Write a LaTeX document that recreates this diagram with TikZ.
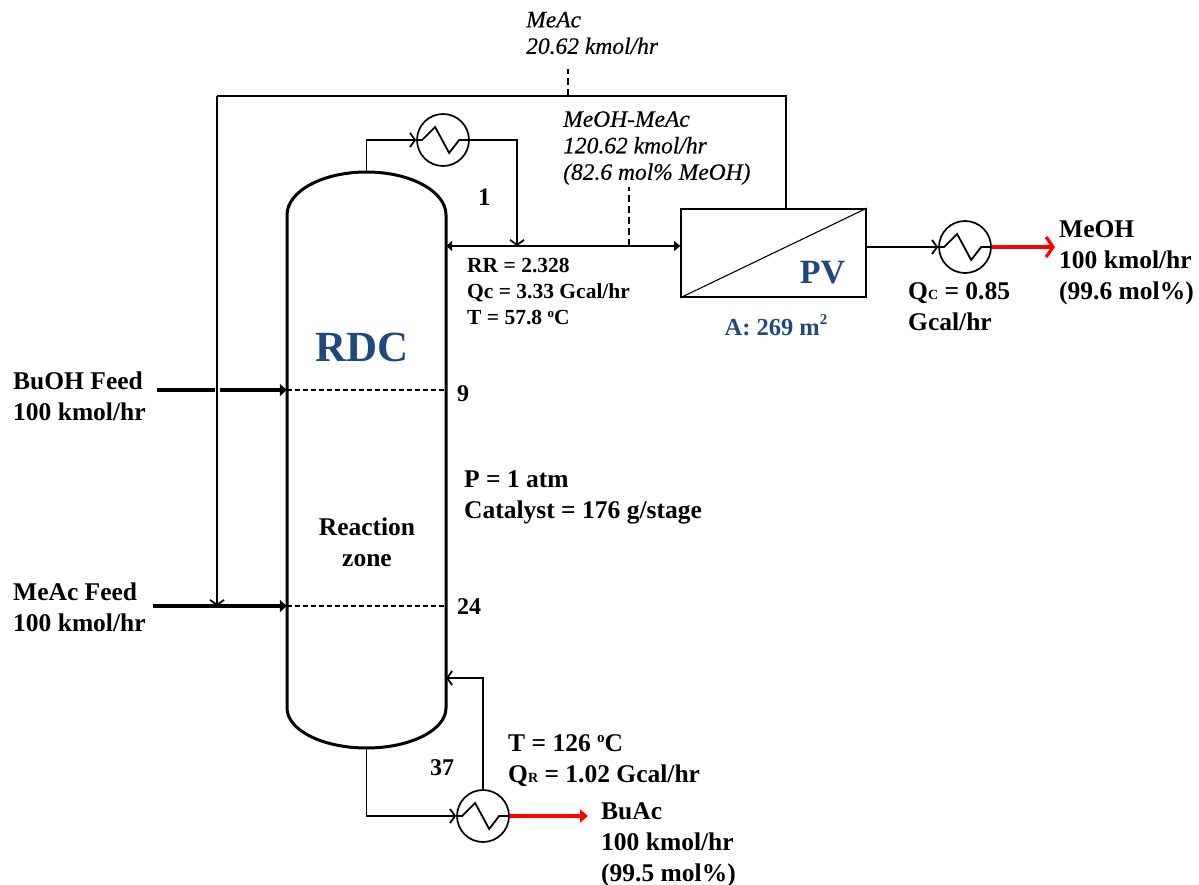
\documentclass[tikz,border=0pt]{standalone}
\usepackage{fontspec}
\setmainfont{Liberation Serif}
\usepackage{tikz}
\usetikzlibrary{arrows.meta}
\usetikzlibrary{positioning}
\definecolor{title_blue}{HTML}{1F497D}

\begin{document}
\begin{tikzpicture}[x=1pt, y=-1pt,
  hx_style/.style={circle,draw=black,line width=1.7pt,minimum size=52pt,inner sep=0pt,fill=white},
  pv_style/.style={rectangle,draw=black,line width=1.7pt,minimum width=185pt,minimum height=88pt,inner sep=0pt},
  column_style/.style={draw=black,line width=3pt,fill=white},
  edge_style/.style={draw=black,line width=1.8pt},
  thin_style/.style={draw=black,line width=1.1pt},
  dash_style/.style={draw=black,line width=1.5pt,dash pattern=on 7pt off 4pt},
  tray_style/.style={draw=black,line width=1.2pt,dash pattern=on 5pt off 3pt},
  barb_style/.style={draw=black,line width=1.8pt,-{Straight Barb[length=5pt,width=14pt]}},
  arrow_style/.style={draw=black,line width=1.8pt,-{Triangle[length=6pt,width=10pt]}},
  feed_style/.style={draw=black,line width=3.2pt},
  red_style/.style={draw=red,line width=3.2pt},
  big_text/.style={inner sep=0pt,align=left,anchor=west,font=\bfseries\fontsize{25.5}{31}\selectfont},
  mid_text/.style={inner sep=0pt,align=left,anchor=west,font=\bfseries\fontsize{21.5}{26}\selectfont},
  slanted_text/.style={inner sep=0pt,align=left,anchor=west,font=\itshape\addfontfeature{FakeBold=0.4}\fontsize{23.5}{26.5}\selectfont},
  blue_text/.style={inner sep=0pt,text=title_blue,font=\bfseries\fontsize{24.5}{30}\selectfont}]
  \useasboundingbox (0,0) rectangle (1199,885);

  % column
  \node (rdc) [minimum width=159pt, minimum height=576pt, inner sep=0pt] at (366.5,460) {};
  \draw [column_style] (287,215) arc[start angle=180,end angle=360,x radius=79.5,y radius=43]
    -- (446,708) arc[start angle=0,end angle=180,x radius=79.5,y radius=40] -- cycle;

  \node (hx_top) [hx_style] at (443,140) {};
  \node (hx_pv) [hx_style] at (965,247) {};
  \node (hx_bot) [hx_style] at (483,816) {};
  \node (pv) [pv_style] at (773.5,253) {};

  \coordinate (top_in) at (517,246);
  \coordinate (cut_top) at (629,246);
  \coordinate (cut_up) at (629,187);
  \coordinate (rec_top) at (786,96);
  \coordinate (rec_left) at (217,96);
  \coordinate (purge) at (568,96);
  \coordinate (purge_up) at (568,69);
  \coordinate (feed_bu) at (157,390);
  \coordinate (gap_a) at (215,390);
  \coordinate (gap_b) at (220,390);
  \coordinate (feed_me) at (153,606);
  \coordinate (boil_in) at (446,678);
  \coordinate (me_out) at (1055,247);
  \coordinate (bu_out) at (588,816);

  \foreach \hx in {hx_top,hx_pv,hx_bot}
    \draw [edge_style] (\hx.west) -- ++(6,0) -- ++(13,-13) -- ++(14,26) -- ++(10,-13) -- (\hx.east);

  % overhead
  \draw [barb_style] (rdc.north) |- (hx_top.west);
  \draw [barb_style] (hx_top.east) -| (top_in);
  \draw [arrow_style] (rdc.east |- top_in) -- (pv.west |- top_in);
  \draw [arrow_style] (top_in) -- (rdc.east |- top_in);
  \draw [dash_style] (cut_top) -- (cut_up);

  % recycle
  \draw [edge_style] (rec_top |- pv.north) -- (rec_top) -- (rec_left);
  \draw [barb_style] (rec_left) -- (rec_left |- feed_me);
  \draw [dash_style] (purge) -- (purge_up);

  % feeds
  \draw [feed_style] (feed_bu) -- (gap_a);
  \draw [feed_style,-{Triangle[length=7pt,width=12pt]}] (gap_b) -- (rdc.west |- gap_b);
  \draw [feed_style,-{Triangle[length=7pt,width=12pt]}] (feed_me) -- (rdc.west |- feed_me);
  \draw [tray_style] (rdc.west |- gap_b) -- (rdc.east |- gap_b);
  \draw [tray_style] (rdc.west |- feed_me) -- (rdc.east |- feed_me);

  % membrane
  \draw [thin_style] (pv.south west) -- (pv.north east);
  \draw [barb_style] (pv.east |- hx_pv) -- (hx_pv.west);
  \draw [red_style,-{Straight Barb[length=7pt,width=20pt]}] (hx_pv.east) -- (me_out);

  % bottoms
  \draw [barb_style] (rdc.south) |- (hx_bot.west);
  \draw [barb_style] (hx_bot.north) |- (boil_in);
  \draw [red_style,-{Triangle[length=8pt,width=13pt]}] (hx_bot.east) -- (bu_out);

  % labels
  \node (rdc_name) [blue_text,font=\bfseries\fontsize{43}{50}\selectfont] at (362,347) {RDC};
  \node (pv_name) [blue_text,font=\bfseries\fontsize{34}{40}\selectfont] at (822.5,273) {PV};
  \node (pv_area) [blue_text] at (776,325) {A: 269 m\raisebox{.45em}{\fontsize{15}{15}\selectfont 2}};
  \node (purge_text) [slanted_text] at (526,33) {MeAc\\20.62 kmol/hr};
  \node (cut_text) [slanted_text] at (563,148) {MeOH-MeAc\\120.62 kmol/hr\\(82.6 mol\% MeOH)};
  \node (top_text) [mid_text] at (467,292) {RR = 2.328\\Qc = 3.33 Gcal/hr\\T = 57.8 \raisebox{.35em}{\fontsize{13}{13}\selectfont o}C};
  \node (st_1) [mid_text,font=\bfseries\fontsize{25}{30}\selectfont] at (478,197) {1};
  \node (st_9) [mid_text,font=\bfseries\fontsize{24}{30}\selectfont] at (457,394) {9};
  \node (st_24) [mid_text,font=\bfseries\fontsize{24}{30}\selectfont] at (457,607) {24};
  \node (st_37) [mid_text,font=\bfseries\fontsize{24}{30}\selectfont] at (430,768) {37};
  \node (bu_feed) [big_text] at (13,396) {BuOH Feed\\100 kmol/hr};
  \node (me_feed) [big_text] at (13,607) {MeAc Feed\\100 kmol/hr};
  \node (cond_text) [big_text] at (464,497) {P = 1 atm\\Catalyst = 176 g/stage};
  \node (zone_text) [big_text,anchor=center,align=center] at (367,542) {Reaction\\zone};
  \node (qc_text) [big_text] at (908,307) {Q{\fontsize{14}{14}\selectfont C} = 0.85\\Gcal/hr};
  \node (me_text) [big_text] at (1059,263) {MeOH\\100 kmol/hr\\(99.6 mol\%)};
  \node (bot_text) [big_text] at (508,761) {T = 126 \raisebox{.35em}{\fontsize{15}{15}\selectfont o}C\\Q{\fontsize{14}{14}\selectfont R} = 1.02 Gcal/hr};
  \node (bu_text) [big_text] at (601,845) {BuAc\\100 kmol/hr\\(99.5 mol\%)};
\end{tikzpicture}
\end{document}
